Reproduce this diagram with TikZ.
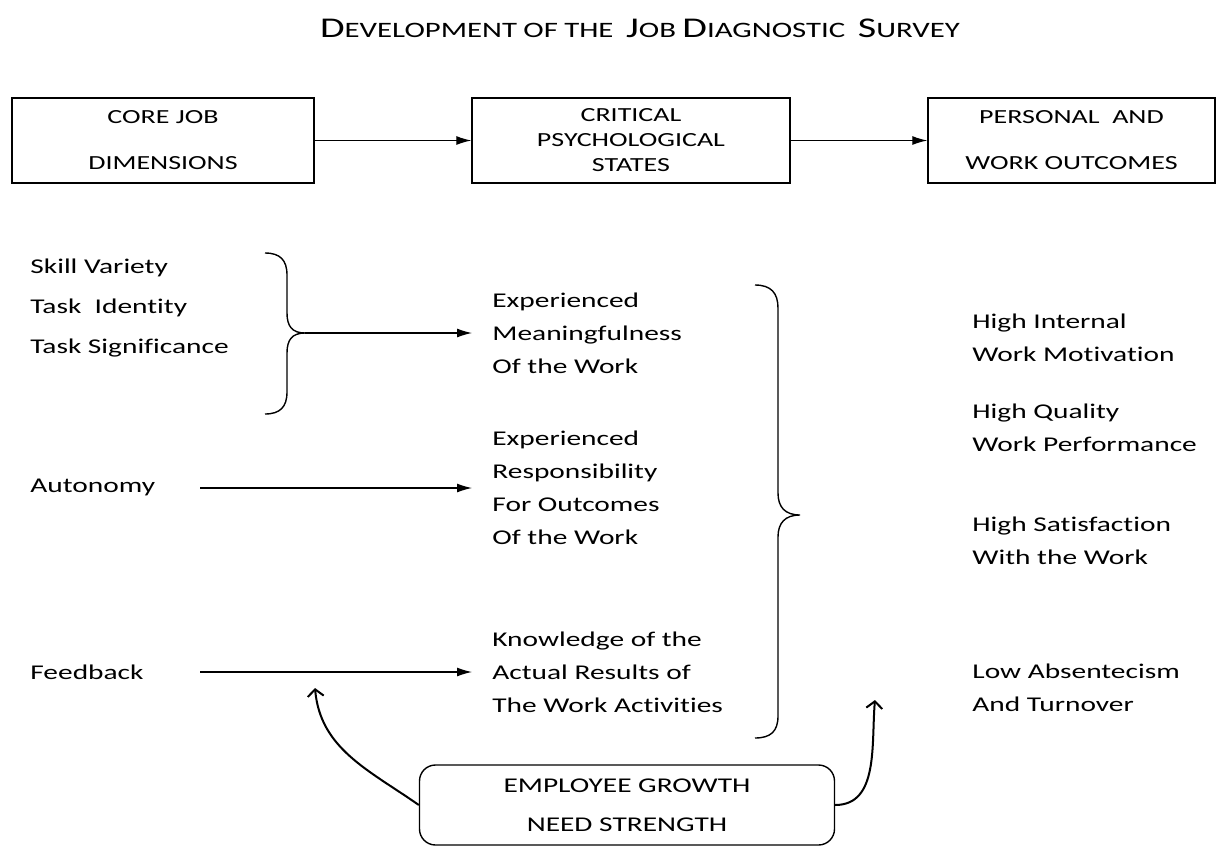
\documentclass[tikz,border=0pt]{standalone}
\usepackage{fontspec}
\setmainfont{Carlito}[FakeStretch=1.4,Ligatures=NoCommon]
\usepackage{tikz}
\usetikzlibrary{arrows.meta}
\tikzstyle{jbox}=[draw,line width=0.7,align=center,minimum height=42.5pt,inner sep=0]
\tikzstyle{lbl}=[anchor=west,inner sep=0,align=left,font=\fontsize{10.5}{16.5}\selectfont]
\tikzstyle{mid}=[lbl,inner xsep=10pt]
\tikzstyle{arr}=[-{Latex[length=7.5,width=4.5]},line width=0.6]
\tikzstyle{curv}=[-{Straight Barb[length=3.5,width=8]},line width=1]
\tikzstyle{brc}=[line width=0.7]
\newcommand\fsc[2]{{\fontsize{14.3}{14}\selectfont #1}{\fontsize{11}{14}\selectfont #2}}

\begin{document}
\begin{tikzpicture}[x=0.5pt,y=-0.5pt]
  \useasboundingbox (0,0) rectangle (1228,847);

  % TITLE
  \node[inner sep=0] (title) at (640,28)
    {\fsc{D}{EVELOPMENT} \fsc{}{OF} \fsc{}{THE} \ \fsc{J}{OB} \fsc{D}{IAGNOSTIC} \ \fsc{S}{URVEY}};

  % TOP BOXES
  \node[jbox,minimum width=151pt,font=\fontsize{10}{23}\selectfont] (core) at (163,140.5) {CORE JOB\\DIMENSIONS};
  \node[jbox,minimum width=159pt,font=\fontsize{10}{12.5}\selectfont] (critical) at (631,140.5) {CRITICAL\\PSYCHOLOGICAL\\STATES};
  \node[jbox,minimum width=143.5pt,font=\fontsize{10}{23}\selectfont] (outcomes) at (1071.5,140.5) {PERSONAL \ AND\\WORK OUTCOMES};
  \draw[arr] (core) -- (critical);
  \draw[arr] (critical) -- (outcomes);

  % CORE DIMENSIONS
  \node[lbl,font=\fontsize{10.5}{20}\selectfont] (skills) at (30,308) {Skill Variety\\Task \ Identity\\Task Significance};
  \node[lbl] (autonomy) at (30,487) {Autonomy};
  \node[lbl] (feedback) at (30,672) {Feedback};

  % PSYCHOLOGICAL STATES
  \node[mid] (meaning) at (472,333) {Experienced\\Meaningfulness\\Of the Work};
  \node[mid] (respons) at (472,488) {Experienced\\Responsibility\\For Outcomes\\Of the Work};
  \node[mid] (knowledge) at (472,672) {Knowledge of the\\Actual Results of\\The Work Activities};

  % OUTCOMES
  \node[lbl] (motivation) at (972,338) {High Internal\\Work Motivation};
  \node[lbl] (performance) at (972,428) {High Quality\\Work Performance};
  \node[lbl] (satisfaction) at (972,541) {High Satisfaction\\With the Work};
  \node[lbl] (absent) at (972,688) {Low Absentecism\\And Turnover};

  % BRACES
  \draw[brc] (265,253) .. controls (280,253) and (287,260) .. (287,275) -- (287,313)
    .. controls (287,326) and (292,333) .. (305,333)
    .. controls (292,333) and (287,340) .. (287,353) -- (287,392)
    .. controls (287,407) and (280,414) .. (265,414);
  \draw[brc] (755,285) .. controls (771,285) and (778,293) .. (778,308) -- (778,493)
    .. controls (778,507) and (785,515) .. (800,515)
    .. controls (785,515) and (778,523) .. (778,537) -- (778,716)
    .. controls (778,731) and (771,738) .. (755,738);

  % ARROWS
  \coordinate (tip) at (305,333);
  \coordinate (auto0) at (200,488);
  \coordinate (feed0) at (200,672);
  \draw[arr] (tip) -- (meaning.west);
  \draw[arr] (auto0) -- (respons.west);
  \draw[arr] (feed0) -- (knowledge.west);

  % GROWTH NEED
  \node[draw,line width=0.7,rounded corners=8,minimum width=207.5pt,minimum height=40pt,
        align=center,font=\fontsize{10.5}{19.5}\selectfont] (growth) at (627,805)
    {EMPLOYEE GROWTH\\NEED STRENGTH};
  \coordinate (up1) at (315,688);
  \coordinate (up2) at (875,700);
  \draw[curv] (growth.west) to[out=145,in=-85] (up1);
  \draw[curv] (growth.east) to[out=0,in=-95] (up2);
\end{tikzpicture}
\end{document}
